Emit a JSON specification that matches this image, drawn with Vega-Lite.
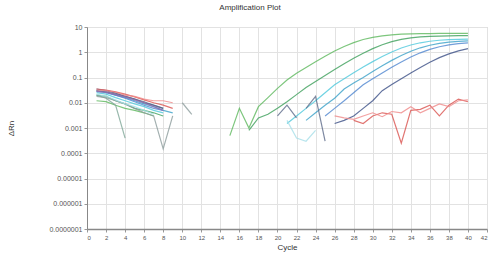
{
  "$schema": "https://vega.github.io/schema/vega-lite/v6.json",
  "autosize": "none",
  "width": 400,
  "height": 202,
  "padding": {"left": 87, "top": 27, "right": 3, "bottom": 27},
  "background": "white",
  "title": {"text": "Amplification Plot", "fontSize": 8, "fontWeight": "normal", "color": "#333", "offset": 11, "dx": -37, "font": "Liberation Sans"},
  "config": {
    "view": {"stroke": "#c8c8c8"},
    "axis": {"labelFont": "Liberation Sans", "titleFont": "Liberation Sans", "labelColor": "#555", "titleColor": "#333", "gridColor": "#e2e2e2", "domainColor": "#888", "tickColor": "#999", "tickSize": 3}
  },
  "data": {"values": [
    {"w":"G1","k":"G1a","c":1,"v":0.012},{"w":"G1","k":"G1a","c":2,"v":0.011},{"w":"G1","k":"G1a","c":3,"v":0.008},{"w":"G1","k":"G1a","c":4,"v":0.006},{"w":"G1","k":"G1a","c":5,"v":0.005},{"w":"G1","k":"G1a","c":6,"v":0.004},{"w":"G1","k":"G1a","c":7,"v":0.003},
    {"w":"G1","k":"G1b","c":15,"v":0.0005},{"w":"G1","k":"G1b","c":16,"v":0.006},{"w":"G1","k":"G1b","c":17,"v":0.001},{"w":"G1","k":"G1b","c":18,"v":0.007},{"w":"G1","k":"G1b","c":19,"v":0.016},{"w":"G1","k":"G1b","c":20,"v":0.037},{"w":"G1","k":"G1b","c":21,"v":0.08},{"w":"G1","k":"G1b","c":22,"v":0.147},{"w":"G1","k":"G1b","c":23,"v":0.25},{"w":"G1","k":"G1b","c":24,"v":0.42},{"w":"G1","k":"G1b","c":25,"v":0.7},{"w":"G1","k":"G1b","c":26,"v":1.12},{"w":"G1","k":"G1b","c":27,"v":1.7},{"w":"G1","k":"G1b","c":28,"v":2.41},{"w":"G1","k":"G1b","c":29,"v":3.19},{"w":"G1","k":"G1b","c":30,"v":3.9},{"w":"G1","k":"G1b","c":31,"v":4.48},{"w":"G1","k":"G1b","c":32,"v":4.9},{"w":"G1","k":"G1b","c":33,"v":5.18},{"w":"G1","k":"G1b","c":34,"v":5.35},{"w":"G1","k":"G1b","c":35,"v":5.45},{"w":"G1","k":"G1b","c":36,"v":5.51},{"w":"G1","k":"G1b","c":37,"v":5.55},{"w":"G1","k":"G1b","c":38,"v":5.57},{"w":"G1","k":"G1b","c":39,"v":5.58},{"w":"G1","k":"G1b","c":40,"v":5.59},
    {"w":"G2","k":"G2a","c":1,"v":0.02},{"w":"G2","k":"G2a","c":2,"v":0.018},{"w":"G2","k":"G2a","c":3,"v":0.012},{"w":"G2","k":"G2a","c":4,"v":0.009},{"w":"G2","k":"G2a","c":5,"v":0.006},{"w":"G2","k":"G2a","c":6,"v":0.005},{"w":"G2","k":"G2a","c":7,"v":0.004},{"w":"G2","k":"G2a","c":8,"v":0.003},
    {"w":"G2","k":"G2b","c":17,"v":0.0008},{"w":"G2","k":"G2b","c":18,"v":0.0025},{"w":"G2","k":"G2b","c":19,"v":0.0035},{"w":"G2","k":"G2b","c":20,"v":0.006},{"w":"G2","k":"G2b","c":21,"v":0.011},{"w":"G2","k":"G2b","c":22,"v":0.021},{"w":"G2","k":"G2b","c":23,"v":0.04},{"w":"G2","k":"G2b","c":24,"v":0.07},{"w":"G2","k":"G2b","c":25,"v":0.121},{"w":"G2","k":"G2b","c":26,"v":0.207},{"w":"G2","k":"G2b","c":27,"v":0.349},{"w":"G2","k":"G2b","c":28,"v":0.575},{"w":"G2","k":"G2b","c":29,"v":0.92},{"w":"G2","k":"G2b","c":30,"v":1.39},{"w":"G2","k":"G2b","c":31,"v":1.98},{"w":"G2","k":"G2b","c":32,"v":2.62},{"w":"G2","k":"G2b","c":33,"v":3.21},{"w":"G2","k":"G2b","c":34,"v":3.68},{"w":"G2","k":"G2b","c":35,"v":4.03},{"w":"G2","k":"G2b","c":36,"v":4.25},{"w":"G2","k":"G2b","c":37,"v":4.39},{"w":"G2","k":"G2b","c":38,"v":4.48},{"w":"G2","k":"G2b","c":39,"v":4.53},{"w":"G2","k":"G2b","c":40,"v":4.56},
    {"w":"C3","k":"C3a","c":1,"v":0.025},{"w":"C3","k":"C3a","c":2,"v":0.022},{"w":"C3","k":"C3a","c":3,"v":0.016},{"w":"C3","k":"C3a","c":4,"v":0.012},{"w":"C3","k":"C3a","c":5,"v":0.009},{"w":"C3","k":"C3a","c":6,"v":0.007},{"w":"C3","k":"C3a","c":7,"v":0.005},{"w":"C3","k":"C3a","c":8,"v":0.004},
    {"w":"C3","k":"C3b","c":21,"v":0.0015},{"w":"C3","k":"C3b","c":22,"v":0.003},{"w":"C3","k":"C3b","c":23,"v":0.006},{"w":"C3","k":"C3b","c":24,"v":0.012},{"w":"C3","k":"C3b","c":25,"v":0.025},{"w":"C3","k":"C3b","c":26,"v":0.052},{"w":"C3","k":"C3b","c":27,"v":0.089},{"w":"C3","k":"C3b","c":28,"v":0.153},{"w":"C3","k":"C3b","c":29,"v":0.258},{"w":"C3","k":"C3b","c":30,"v":0.425},{"w":"C3","k":"C3b","c":31,"v":0.68},{"w":"C3","k":"C3b","c":32,"v":1.03},{"w":"C3","k":"C3b","c":33,"v":1.47},{"w":"C3","k":"C3b","c":34,"v":1.93},{"w":"C3","k":"C3b","c":35,"v":2.37},{"w":"C3","k":"C3b","c":36,"v":2.72},{"w":"C3","k":"C3b","c":37,"v":2.98},{"w":"C3","k":"C3b","c":38,"v":3.14},{"w":"C3","k":"C3b","c":39,"v":3.25},{"w":"C3","k":"C3b","c":40,"v":3.31},
    {"w":"T5","k":"T5a","c":1,"v":0.03},{"w":"T5","k":"T5a","c":2,"v":0.026},{"w":"T5","k":"T5a","c":3,"v":0.02},{"w":"T5","k":"T5a","c":4,"v":0.016},{"w":"T5","k":"T5a","c":5,"v":0.012},{"w":"T5","k":"T5a","c":6,"v":0.009},{"w":"T5","k":"T5a","c":7,"v":0.007},{"w":"T5","k":"T5a","c":8,"v":0.005},{"w":"T5","k":"T5a","c":9,"v":0.004},
    {"w":"T5","k":"T5b","c":23,"v":0.002},{"w":"T5","k":"T5b","c":24,"v":0.004},{"w":"T5","k":"T5b","c":25,"v":0.008},{"w":"T5","k":"T5b","c":26,"v":0.015},{"w":"T5","k":"T5b","c":27,"v":0.035},{"w":"T5","k":"T5b","c":28,"v":0.06},{"w":"T5","k":"T5b","c":29,"v":0.1},{"w":"T5","k":"T5b","c":30,"v":0.174},{"w":"T5","k":"T5b","c":31,"v":0.294},{"w":"T5","k":"T5b","c":32,"v":0.477},{"w":"T5","k":"T5b","c":33,"v":0.744},{"w":"T5","k":"T5b","c":34,"v":1.095},{"w":"T5","k":"T5b","c":35,"v":1.5},{"w":"T5","k":"T5b","c":36,"v":1.9},{"w":"T5","k":"T5b","c":37,"v":2.26},{"w":"T5","k":"T5b","c":38,"v":2.52},{"w":"T5","k":"T5b","c":39,"v":2.71},{"w":"T5","k":"T5b","c":40,"v":2.82},
    {"w":"B4","k":"B4a","c":1,"v":0.028},{"w":"B4","k":"B4a","c":2,"v":0.025},{"w":"B4","k":"B4a","c":3,"v":0.02},{"w":"B4","k":"B4a","c":4,"v":0.015},{"w":"B4","k":"B4a","c":5,"v":0.011},{"w":"B4","k":"B4a","c":6,"v":0.008},{"w":"B4","k":"B4a","c":7,"v":0.006},{"w":"B4","k":"B4a","c":8,"v":0.005},
    {"w":"B4","k":"B4b","c":25,"v":0.003},{"w":"B4","k":"B4b","c":26,"v":0.006},{"w":"B4","k":"B4b","c":27,"v":0.012},{"w":"B4","k":"B4b","c":28,"v":0.025},{"w":"B4","k":"B4b","c":29,"v":0.052},{"w":"B4","k":"B4b","c":30,"v":0.09},{"w":"B4","k":"B4b","c":31,"v":0.151},{"w":"B4","k":"B4b","c":32,"v":0.255},{"w":"B4","k":"B4b","c":33,"v":0.413},{"w":"B4","k":"B4b","c":34,"v":0.645},{"w":"B4","k":"B4b","c":35,"v":0.95},{"w":"B4","k":"B4b","c":36,"v":1.3},{"w":"B4","k":"B4b","c":37,"v":1.65},{"w":"B4","k":"B4b","c":38,"v":1.96},{"w":"B4","k":"B4b","c":39,"v":2.19},{"w":"B4","k":"B4b","c":40,"v":2.35},
    {"w":"N6","k":"N6a","c":1,"v":0.035},{"w":"N6","k":"N6a","c":2,"v":0.03},{"w":"N6","k":"N6a","c":3,"v":0.024},{"w":"N6","k":"N6a","c":4,"v":0.018},{"w":"N6","k":"N6a","c":5,"v":0.014},{"w":"N6","k":"N6a","c":6,"v":0.01},{"w":"N6","k":"N6a","c":7,"v":0.008},{"w":"N6","k":"N6a","c":8,"v":0.006},
    {"w":"N6","k":"N6b","c":26,"v":0.0015},{"w":"N6","k":"N6b","c":27,"v":0.002},{"w":"N6","k":"N6b","c":28,"v":0.003},{"w":"N6","k":"N6b","c":29,"v":0.006},{"w":"N6","k":"N6b","c":30,"v":0.012},{"w":"N6","k":"N6b","c":31,"v":0.03},{"w":"N6","k":"N6b","c":32,"v":0.053},{"w":"N6","k":"N6b","c":33,"v":0.09},{"w":"N6","k":"N6b","c":34,"v":0.152},{"w":"N6","k":"N6b","c":35,"v":0.25},{"w":"N6","k":"N6b","c":36,"v":0.4},{"w":"N6","k":"N6b","c":37,"v":0.61},{"w":"N6","k":"N6b","c":38,"v":0.86},{"w":"N6","k":"N6b","c":39,"v":1.14},{"w":"N6","k":"N6b","c":40,"v":1.39},
    {"w":"S7","k":"S7a","c":1,"v":0.03},{"w":"S7","k":"S7a","c":2,"v":0.027},{"w":"S7","k":"S7a","c":3,"v":0.022},{"w":"S7","k":"S7a","c":4,"v":0.018},{"w":"S7","k":"S7a","c":5,"v":0.014},{"w":"S7","k":"S7a","c":6,"v":0.011},{"w":"S7","k":"S7a","c":7,"v":0.008},{"w":"S7","k":"S7a","c":8,"v":0.006},
    {"w":"S7","k":"S7b","c":20,"v":0.003},{"w":"S7","k":"S7b","c":21,"v":0.008},{"w":"S7","k":"S7b","c":22,"v":0.0025},
    {"w":"S7","k":"S7c","c":23,"v":0.006},{"w":"S7","k":"S7c","c":24,"v":0.018},{"w":"S7","k":"S7c","c":25,"v":0.0003},
    {"w":"R1","k":"R1a","c":1,"v":0.035},{"w":"R1","k":"R1a","c":2,"v":0.032},{"w":"R1","k":"R1a","c":3,"v":0.027},{"w":"R1","k":"R1a","c":4,"v":0.022},{"w":"R1","k":"R1a","c":5,"v":0.017},{"w":"R1","k":"R1a","c":6,"v":0.013},{"w":"R1","k":"R1a","c":7,"v":0.01},{"w":"R1","k":"R1a","c":8,"v":0.008},{"w":"R1","k":"R1a","c":9,"v":0.006},
    {"w":"R1","k":"R1b","c":28,"v":0.002},{"w":"R1","k":"R1b","c":29,"v":0.0015},{"w":"R1","k":"R1b","c":30,"v":0.003},{"w":"R1","k":"R1b","c":31,"v":0.004},{"w":"R1","k":"R1b","c":32,"v":0.0035},{"w":"R1","k":"R1b","c":33,"v":0.00025},{"w":"R1","k":"R1b","c":34,"v":0.005},{"w":"R1","k":"R1b","c":35,"v":0.0055},{"w":"R1","k":"R1b","c":36,"v":0.008},{"w":"R1","k":"R1b","c":37,"v":0.003},{"w":"R1","k":"R1b","c":38,"v":0.008},{"w":"R1","k":"R1b","c":39,"v":0.014},{"w":"R1","k":"R1b","c":40,"v":0.011},
    {"w":"R2","k":"R2a","c":1,"v":0.032},{"w":"R2","k":"R2a","c":2,"v":0.03},{"w":"R2","k":"R2a","c":3,"v":0.026},{"w":"R2","k":"R2a","c":4,"v":0.02},{"w":"R2","k":"R2a","c":5,"v":0.018},{"w":"R2","k":"R2a","c":6,"v":0.014},{"w":"R2","k":"R2a","c":7,"v":0.012},{"w":"R2","k":"R2a","c":8,"v":0.012},{"w":"R2","k":"R2a","c":9,"v":0.01},
    {"w":"R2","k":"R2b","c":26,"v":0.003},{"w":"R2","k":"R2b","c":27,"v":0.0025},{"w":"R2","k":"R2b","c":28,"v":0.0022},{"w":"R2","k":"R2b","c":29,"v":0.003},{"w":"R2","k":"R2b","c":30,"v":0.004},{"w":"R2","k":"R2b","c":31,"v":0.0028},{"w":"R2","k":"R2b","c":32,"v":0.0045},{"w":"R2","k":"R2b","c":33,"v":0.004},{"w":"R2","k":"R2b","c":34,"v":0.007},{"w":"R2","k":"R2b","c":35,"v":0.004},{"w":"R2","k":"R2b","c":36,"v":0.006},{"w":"R2","k":"R2b","c":37,"v":0.009},{"w":"R2","k":"R2b","c":38,"v":0.007},{"w":"R2","k":"R2b","c":39,"v":0.012},{"w":"R2","k":"R2b","c":40,"v":0.013},
    {"w":"P8","k":"P8a","c":1,"v":0.028},{"w":"P8","k":"P8a","c":2,"v":0.026},{"w":"P8","k":"P8a","c":3,"v":0.021},{"w":"P8","k":"P8a","c":4,"v":0.017},{"w":"P8","k":"P8a","c":5,"v":0.013},{"w":"P8","k":"P8a","c":6,"v":0.01},{"w":"P8","k":"P8a","c":7,"v":0.007},{"w":"P8","k":"P8a","c":8,"v":0.005},
    {"w":"GG","k":"GGa","c":1,"v":0.02},{"w":"GG","k":"GGa","c":2,"v":0.015},{"w":"GG","k":"GGa","c":3,"v":0.008},{"w":"GG","k":"GGa","c":4,"v":0.0004},
    {"w":"GR","k":"GRa","c":1,"v":0.018},{"w":"GR","k":"GRa","c":2,"v":0.016},{"w":"GR","k":"GRa","c":3,"v":0.012},{"w":"GR","k":"GRa","c":4,"v":0.009},{"w":"GR","k":"GRa","c":5,"v":0.006},{"w":"GR","k":"GRa","c":6,"v":0.004},{"w":"GR","k":"GRa","c":7,"v":0.003},{"w":"GR","k":"GRa","c":8,"v":0.00015},{"w":"GR","k":"GRa","c":9,"v":0.003},
    {"w":"GR","k":"GRb","c":10,"v":0.01},{"w":"GR","k":"GRb","c":11,"v":0.0035},
    {"w":"LC","k":"LCa","c":1,"v":0.022},{"w":"LC","k":"LCa","c":2,"v":0.018},{"w":"LC","k":"LCa","c":3,"v":0.013},{"w":"LC","k":"LCa","c":4,"v":0.009},{"w":"LC","k":"LCa","c":5,"v":0.007},{"w":"LC","k":"LCa","c":6,"v":0.005},{"w":"LC","k":"LCa","c":7,"v":0.0035},
    {"w":"LC","k":"LCb","c":21,"v":0.002},{"w":"LC","k":"LCb","c":22,"v":0.0004},{"w":"LC","k":"LCb","c":23,"v":0.0003},{"w":"LC","k":"LCb","c":24,"v":0.0008}
  ]},
  "mark": {"type": "line", "strokeWidth": 1.2, "opacity": 0.8, "clip": true},
  "encoding": {
    "x": {"field": "c", "type": "quantitative", "scale": {"domain": [0, 42], "nice": false},
      "axis": {"title": "Cycle", "titleFontSize": 8, "titleFontWeight": "normal", "titlePadding": 3, "labelFontSize": 6, "values": [0,2,4,6,8,10,12,14,16,18,20,22,24,26,28,30,32,34,36,38,40,42], "labelPadding": 2, "domainWidth": 1.3}},
    "y": {"field": "v", "type": "quantitative", "scale": {"type": "log", "domain": [0.0000001, 10], "nice": false},
      "axis": {"title": "ΔRn", "titleFontSize": 8, "titleFontWeight": "normal", "titleX": -72, "titleY": 101, "titleAngle": -90, "labelFontSize": 7, "values": [0.0000001, 0.000001, 0.00001, 0.0001, 0.001, 0.01, 0.1, 1, 10], "labelExpr": "format(datum.value, '.7~f')", "labelPadding": 2}},
    "detail": {"field": "k"},
    "color": {"field": "w", "type": "nominal", "legend": null,
      "scale": {"domain": ["G1","G2","C3","T5","B4","N6","S7","R1","R2","P8","GG","GR","LC"],
        "range": ["#5cb85c","#3c9f5a","#4dc8dc","#3aa0c8","#4f86d0","#3b4f86","#5d6a8a","#d9534f","#ef8a8a","#9b6bb0","#7fa898","#8c9c9c","#a6dfe8"]}}
  }
}
